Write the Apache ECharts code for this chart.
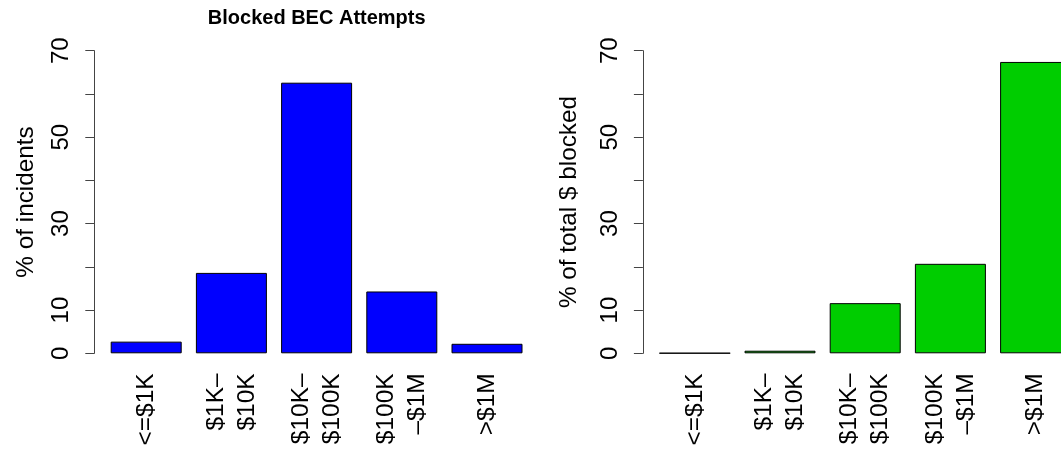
<!DOCTYPE html>
<html>
<head>
<meta charset="utf-8">
<script src="https://cdn.jsdelivr.net/npm/echarts@6/dist/echarts.min.js"></script>
<style>
  html, body { margin: 0; padding: 0; background: #fff; }
  #chart { width: 1061px; height: 451px; }
</style>
</head>
<body>
<div id="chart"></div>
<script>
// ---- data ----
const categories = ['<=$1K', '$1K\u2013\n$10K', '$10K\u2013\n$100K', '$100K\n\u2013$1M', '>$1M'];
const incidentsPct = [2.7, 18.6, 62.6, 14.3, 2.2];
const dollarsPct = [0.05, 0.6, 11.6, 20.7, 67.4];
const yLabelValues = [0, 10, 30, 50, 70];
const titleText = 'Blocked BEC Attempts';
const yNames = ['% of incidents', '% of total $ blocked'];

// ---- layout ----
const FONT = 'Liberation Sans, Arial, Helvetica, sans-serif';
const gridTop = 50.7, gridH = 302.6, gridW = 426;
const grids = [
  { left: 103.6, top: gridTop, width: gridW, height: gridH, outerBoundsMode: 'none', containLabel: false },
  { left: 652.2, top: gridTop, width: gridW, height: gridH, outerBoundsMode: 'none', containLabel: false }
];
const axisColor = '#444';

function yAxisFor(i, gap) {
  return {
    type: 'value', gridIndex: i, min: 0, max: 70, interval: 10,
    offset: 9.3,
    name: yNames[i], nameLocation: 'middle', nameGap: gap, nameRotate: 90,
    nameTextStyle: { fontFamily: FONT, fontSize: 24.3, color: '#000' },
    axisLine: { show: true, lineStyle: { color: axisColor, width: 1 } },
    axisTick: { show: true, length: 9, lineStyle: { color: axisColor, width: 1 } },
    splitLine: { show: false },
    axisLabel: {
      rotate: 90, margin: 21, fontFamily: FONT, fontSize: 24, color: '#000',
      formatter: v => yLabelValues.indexOf(v) >= 0 ? String(v) : ''
    }
  };
}
function xAxisFor(i) {
  return {
    type: 'category', gridIndex: i, data: categories,
    axisLine: { show: false }, axisTick: { show: false },
    axisLabel: {
      rotate: 90, margin: 20, interval: 0, fontFamily: FONT, fontSize: 24.5,
      lineHeight: 31, color: '#000'
    }
  };
}

const chart = echarts.init(document.getElementById('chart'), null, { renderer: 'canvas' });
chart.setOption({
  animation: false,
  backgroundColor: '#fff',
  textStyle: { fontFamily: FONT },
  grid: grids,
  xAxis: [xAxisFor(0), xAxisFor(1)],
  yAxis: [yAxisFor(0, 56), yAxisFor(1, 62)],
  graphic: [{
    type: 'text', x: 316.7, y: 18.5,
    style: { text: titleText, fontFamily: FONT, fontSize: 20, fontWeight: 'bold',
             fill: '#000', align: 'center', verticalAlign: 'middle' }
  }],
  series: [
    { type: 'bar', xAxisIndex: 0, yAxisIndex: 0, data: incidentsPct, barWidth: 71,
      itemStyle: { color: '#0000FF', borderColor: '#000', borderWidth: 1 } },
    { type: 'bar', xAxisIndex: 1, yAxisIndex: 1, data: dollarsPct, barWidth: 71,
      itemStyle: { color: '#00CD00', borderColor: '#000', borderWidth: 1 } }
  ]
});
</script>
</body>
</html>
